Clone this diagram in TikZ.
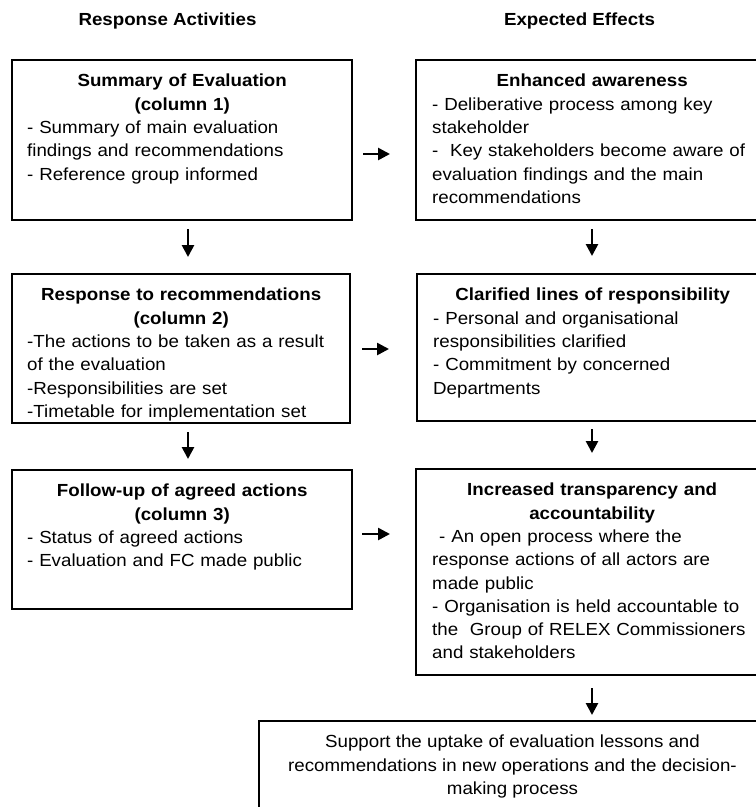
\documentclass[tikz,border=0pt]{standalone}
\usepackage{fontspec}
\setmainfont{Liberation Sans}[FakeStretch=1.07]
\usetikzlibrary{arrows.meta}
\newcommand\fs{\fontsize{17.5}{23.3}\selectfont}
\begin{document}
\begin{tikzpicture}[x=1pt,y=-1pt,
  box/.style={draw, line width=1.8pt, outer sep=0pt, inner sep=0pt, anchor=north west},
  txt/.style={inner sep=0pt, anchor=north west, align=left, font=\fs},
  head/.style={inner sep=0pt, font=\fs\bfseries},
  arr/.style={line width=2.6pt, -{Triangle[length=12pt,width=12pt]}},
]
\useasboundingbox (0,0) rectangle (756,807);

% headers
\node[head] (h1) at (167.5,21) {Response Activities};
\node[head] (h2) at (579.5,21) {Expected Effects};

% boxes
\node[box, minimum width=340pt, minimum height=160pt] (b1) at (12,60) {};
\node[box, minimum width=338pt, minimum height=149pt] (b2) at (12,274) {};
\node[box, minimum width=340pt, minimum height=139pt] (b3) at (12,470) {};
\node[box, minimum width=352pt, minimum height=160pt] (e1) at (416,60) {};
\node[box, minimum width=351pt, minimum height=147pt] (e2) at (417,274) {};
\node[box, minimum width=352pt, minimum height=206pt] (e3) at (416,469) {};
\node[box, minimum width=508pt, minimum height=120pt] (f) at (259,721) {};

% texts
\node[txt, text width=310pt] (t1) at ([xshift=15pt,yshift=-14pt]b1.north west) {%
{\centering\bfseries Summary of Evaluation\\(column 1)\par}
\mbox{- Summary of main evaluation}\\
\mbox{findings and recommendations}\\
\mbox{- Reference group informed}};

\node[txt, text width=308pt] (t2) at ([xshift=15pt,yshift=-14pt]b2.north west) {%
{\centering\bfseries Response to recommendations\\(column 2)\par}
\mbox{-The actions to be taken as a result}\\
\mbox{of the evaluation}\\
\mbox{-Responsibilities are set}\\
\mbox{-Timetable for implementation set}};

\node[txt, text width=310pt] (t3) at ([xshift=15pt,yshift=-14pt]b3.north west) {%
{\centering\bfseries Follow-up of agreed actions\\(column 3)\par}
\mbox{- Status of agreed actions}\\
\mbox{- Evaluation and FC made public}};

\node[txt, text width=320pt] (u1) at ([xshift=16pt,yshift=-14pt]e1.north west) {%
{\centering\bfseries Enhanced awareness\par}
\mbox{- Deliberative process among key}\\
\mbox{stakeholder}\\
\mbox{-\ \ Key stakeholders become aware of}\\
\mbox{evaluation findings and the main}\\
\mbox{recommendations}};

\node[txt, text width=319pt] (u2) at ([xshift=16pt,yshift=-14pt]e2.north west) {%
{\centering\bfseries Clarified lines of responsibility\par}
\mbox{- Personal and organisational}\\
\mbox{responsibilities clarified}\\
\mbox{- Commitment by concerned}\\
\mbox{Departments}};

\node[txt, text width=320pt] (u3) at ([xshift=16pt,yshift=-14pt]e3.north west) {%
{\centering\bfseries Increased transparency and\\accountability\par}
\mbox{\hspace*{7pt}- An open process where the}\\
\mbox{response actions of all actors are}\\
\mbox{made public}\\
\mbox{- Organisation is held accountable to}\\
\mbox{the\ \ Group of RELEX Commissioners}\\
\mbox{and stakeholders}};

\node[inner sep=0pt, anchor=north, align=center, font=\fs] (ft) at ([xshift=-0.5pt,yshift=-14pt]f.north) {%
Support the uptake of evaluation lessons and\\
recommendations in new operations and the decision-\\
making process};

% vertical arrows
\draw[arr, shorten <=9pt, shorten >=17pt] ([xshift=6pt]b1.south) -- ([xshift=6pt]b1.south |- b2.north);
\draw[arr, shorten <=9pt, shorten >=11pt] ([xshift=7pt]b2.south) -- ([xshift=7pt]b2.south |- b3.north);
\draw[arr, shorten <=9pt, shorten >=18pt] ([xshift=0pt]e1.south) -- (e1.south |- e2.north);
\draw[arr, shorten <=8pt, shorten >=16pt] ([xshift=-0.5pt]e2.south) -- ([xshift=-0.5pt]e2.south |- e3.north);
\draw[arr, shorten <=13pt, shorten >=6pt] (e3.south) -- (e3.south |- f.north);

% horizontal arrows
\draw[arr, shorten <=11pt, shorten >=26pt] ([yshift=-14pt]b1.east) -- ([yshift=-14pt]b1.east -| e1.west);
\draw[arr, shorten <=12pt, shorten >=28pt] ([yshift=-0.5pt]b2.east) -- ([yshift=-0.5pt]b2.east -| e2.west);
\draw[arr, shorten <=10pt, shorten >=26pt] ([yshift=5.5pt]b3.east) -- ([yshift=5.5pt]b3.east -| e3.west);
\end{tikzpicture}
\end{document}
